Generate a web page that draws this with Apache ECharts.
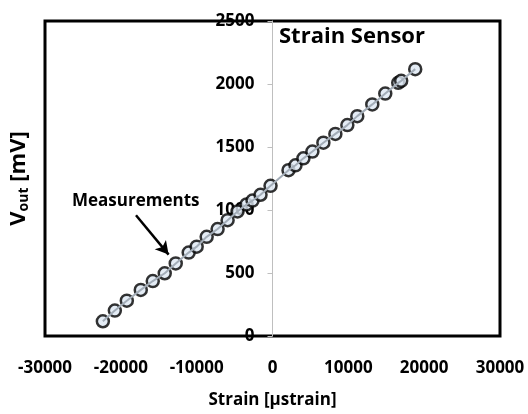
<!DOCTYPE html>
<html>
<head>
<meta charset="utf-8">
<script src="https://cdn.jsdelivr.net/npm/echarts@6/dist/echarts.min.js"></script>
<style>
  html, body { margin: 0; padding: 0; background: #fff; }
  #chart { width: 528px; height: 414px; }
</style>
</head>
<body>
<div id="chart"></div>
<script>
// strain in microstrain, output voltage in mV
var strain = [-22370, -20790, -19210, -17370, -15790, -14210, -12760, -11050, -10000, -8680,
              -7240, -5920, -4610, -3420, -2630, -1580, -260, 2110, 3030, 4080,
              5260, 6710, 8290, 9870, 11180, 13160, 14870, 16580, 16970, 18820];
var vout = [117, 202, 280, 366, 436, 498, 576, 662, 709, 787,
            849, 919, 989, 1044, 1075, 1121, 1192, 1316, 1355, 1410,
            1464, 1534, 1604, 1674, 1745, 1838, 1924, 2009, 2025, 2118];

var xTicks = [-30000, 30000, 10000]; // min, max, step
var yTicks = [0, 2500, 500];

// arrow for the "Measurements" note, in data units
var arrowFrom = [-18000, 958];
var arrowTo = [-13700, 646];

var points = strain.map(function (s, i) { return [s, vout[i]]; });
var font = 'Open Sans';
var plain = function (v) { return String(v); };

var chart = echarts.init(document.getElementById('chart'));
chart.setOption({
  animation: false,
  textStyle: { fontFamily: font },
  grid: {
    left: 45, right: 28, top: 21, bottom: 72,
    show: true, borderColor: '#000', borderWidth: 3, backgroundColor: 'transparent'
  },
  title: [
    { text: 'Strain Sensor', left: 279, top: 26, padding: 0,
      textStyle: { fontFamily: font, fontSize: 22, fontWeight: 'bold', color: '#000' } },
    { text: 'Measurements', left: 72, top: 193, padding: 0,
      textStyle: { fontFamily: font, fontSize: 17, fontWeight: 'bold', color: '#000' } }
  ],
  xAxis: {
    type: 'value', min: xTicks[0], max: xTicks[1], interval: xTicks[2],
    name: 'Strain [\u00b5strain]', nameLocation: 'middle', nameGap: 56,
    nameTextStyle: { fontFamily: font, fontSize: 17, fontWeight: 'bold', color: '#000' },
    axisLine: { show: false, onZero: false },
    axisTick: { show: false },
    splitLine: { show: false },
    axisLabel: { margin: 24, formatter: plain, fontFamily: font, fontSize: 17, fontWeight: 'bold', color: '#000' }
  },
  yAxis: [{
    // drawn at strain = 0, i.e. the middle of the plot
    type: 'value', min: yTicks[0], max: yTicks[1], interval: yTicks[2],
    position: 'left', offset: -227.5,
    axisLine: { show: true, onZero: false, lineStyle: { color: '#bfbfbf', width: 1 } },
    axisTick: { show: true, length: 5, lineStyle: { color: '#bfbfbf' } },
    splitLine: { show: false },
    axisLabel: { margin: 18, formatter: plain, fontFamily: font, fontSize: 17, fontWeight: 'bold', color: '#000' }
  }, {
    type: 'value', min: yTicks[0], max: yTicks[1], position: 'left',
    axisLine: { show: false, onZero: false }, axisTick: { show: false },
    axisLabel: { show: false }, splitLine: { show: false },
    name: '{v|V}{s|out}{v| [mV]}', nameLocation: 'middle', nameGap: 14,
    nameTextStyle: {
      fontFamily: font, fontWeight: 'bold', color: '#000',
      rich: {
        v: { fontFamily: font, fontSize: 22, fontWeight: 'bold', color: '#000' },
        s: { fontFamily: font, fontSize: 14, fontWeight: 'bold', color: '#000', padding: [10, 0, 0, 0] }
      }
    }
  }],
  series: [{
    type: 'scatter', data: points, z: 2,
    symbol: 'circle', symbolSize: 12,
    itemStyle: { color: '#dde7f3', borderColor: '#000', borderWidth: 2.5 }
  }, {
    type: 'line', data: points, z: 3,
    showSymbol: false, symbol: 'none',
    lineStyle: { color: '#a3adb8', width: 2 },
    markLine: {
      silent: true, symbol: ['none', 'arrow'], symbolSize: [11, 13],
      label: { show: false },
      lineStyle: { color: '#000', width: 2.5, type: 'solid' },
      data: [[{ coord: arrowFrom }, { coord: arrowTo }]]
    }
  }]
});
</script>
</body>
</html>
